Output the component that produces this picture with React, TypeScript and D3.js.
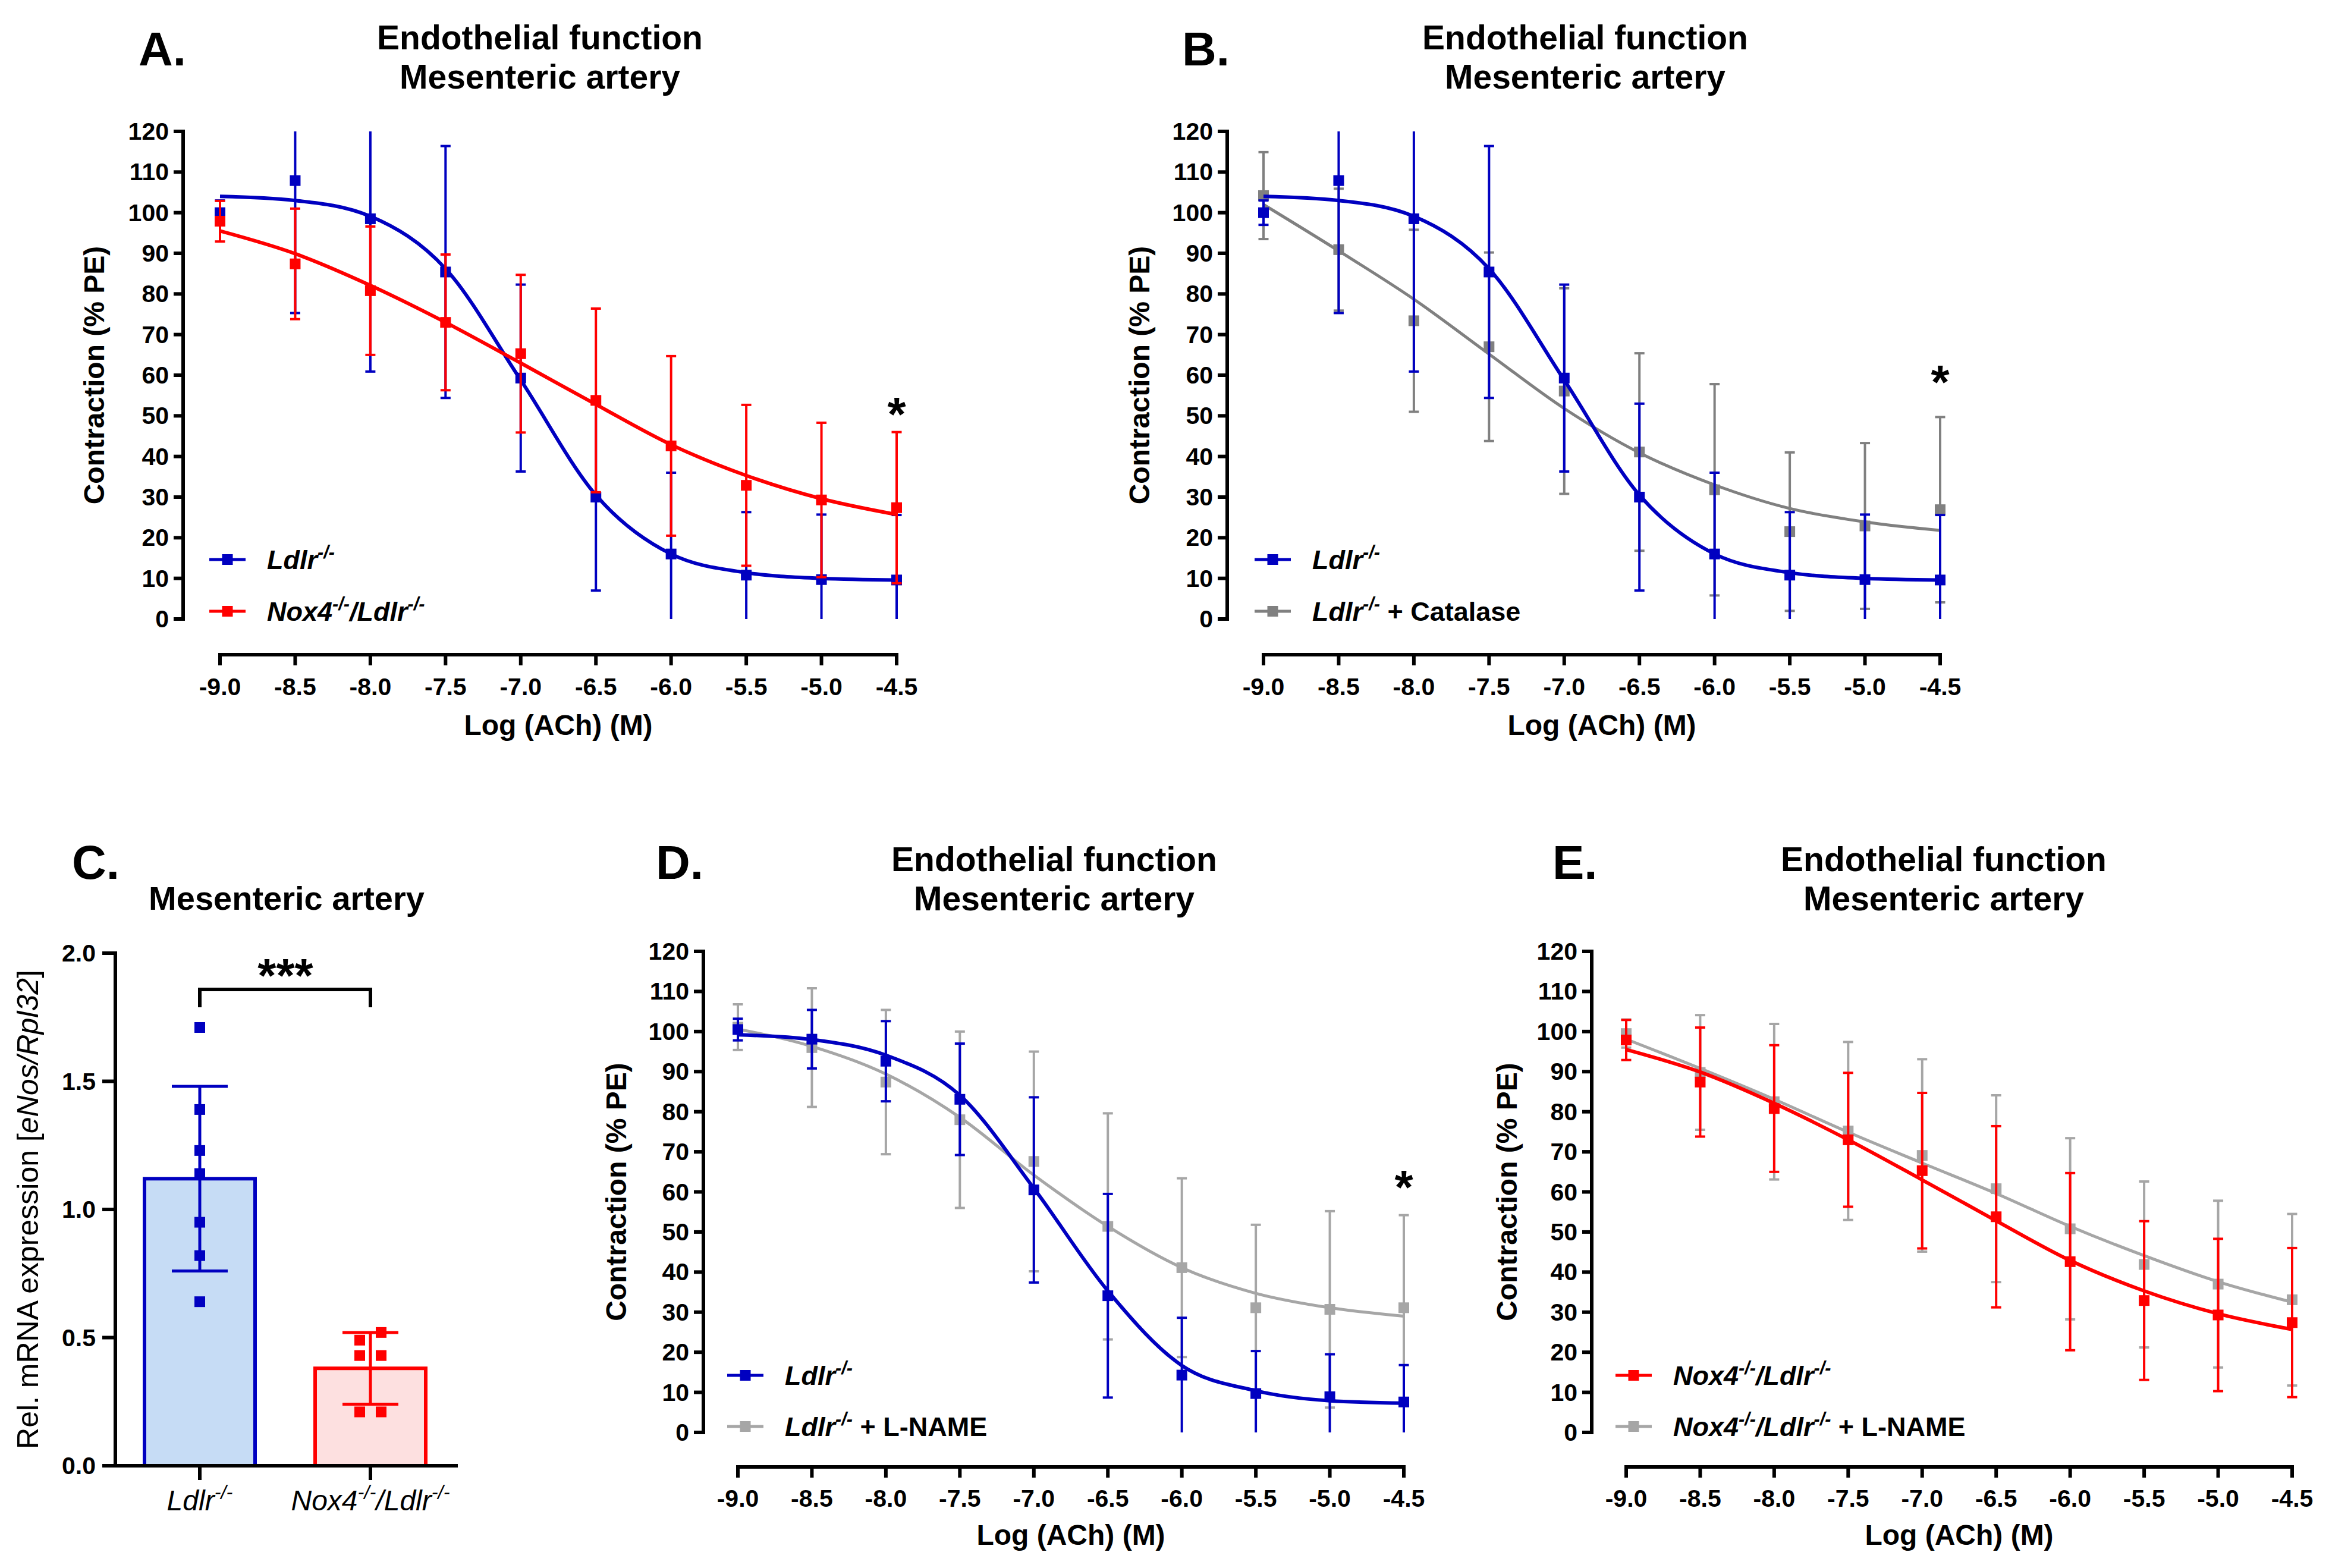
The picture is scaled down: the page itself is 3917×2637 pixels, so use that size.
import React from "react";
import * as d3 from "d3";

// ---- data ----
const LOG_ACH = [-9.0, -8.5, -8.0, -7.5, -7.0, -6.5, -6.0, -5.5, -5.0, -4.5];
const X_TICK_LABELS = ["-9.0", "-8.5", "-8.0", "-7.5", "-7.0", "-6.5", "-6.0", "-5.5", "-5.0", "-4.5"];
const Y_TICKS = [0, 10, 20, 30, 40, 50, 60, 70, 80, 90, 100, 110, 120];

// Panels A / B : Ldlr-/-
const LDLR_MEAN = [100.0, 107.9, 98.5, 85.4, 59.3, 30.0, 16.0, 10.8, 9.7, 9.6];
const LDLR_SEM = [3.0, 32.6, 37.6, 31.0, 23.0, 23.0, 20.0, 15.5, 16.0, 16.0];
const LDLR_FIT = [104.0, 103.0, 99.1, 86.2, 58.8, 30.5, 16.0, 11.4, 10.0, 9.6];

// Panels A / E : Nox4-/-/Ldlr-/-
const NOX4_MEAN = [97.9, 87.4, 80.8, 73.0, 65.3, 53.8, 42.6, 32.9, 29.3, 27.4];
const NOX4_SEM = [5.0, 13.6, 15.8, 16.7, 19.4, 22.6, 22.1, 19.8, 19.0, 18.6];
const NOX4_FIT = [95.5, 89.9, 82.1, 73.0, 63.0, 52.8, 42.9, 35.3, 29.6, 25.7];

// Panel B : Ldlr-/- + Catalase
const CAT_MEAN = [104.2, 90.9, 73.4, 67.0, 56.1, 41.1, 31.8, 21.5, 22.9, 26.9];
const CAT_SEM = [10.7, 15.0, 22.4, 23.2, 25.3, 24.3, 26.0, 19.5, 20.4, 22.8];
const CAT_FIT = [102.0, 90.6, 78.7, 65.2, 51.8, 40.9, 33.0, 27.2, 23.9, 21.8];

// Panel D : Ldlr-/- and Ldlr-/- + L-NAME
const LDLR_D_MEAN = [100.5, 98.1, 92.6, 83.1, 60.5, 34.1, 14.3, 9.7, 8.9, 7.6];
const LDLR_D_SEM = [2.7, 7.3, 10.0, 13.9, 23.1, 25.4, 14.3, 10.6, 10.6, 9.2];
const LDLR_D_FIT = [99.2, 98.0, 94.1, 84.1, 60.9, 35.3, 16.7, 10.4, 7.9, 7.3];
const LNAME_D_MEAN = [101.1, 96.0, 87.4, 78.0, 67.6, 51.4, 41.1, 31.1, 30.7, 31.1];
const LNAME_D_SEM = [5.7, 14.8, 18.0, 22.0, 27.4, 28.2, 22.3, 20.7, 24.5, 23.1];
const LNAME_D_FIT = [100.6, 96.3, 89.4, 78.6, 64.2, 51.4, 41.1, 34.7, 31.1, 29.0];

// Panel E : Nox4-/-/Ldlr-/- + L-NAME
const LNAME_E_MEAN = [99.5, 89.8, 82.5, 75.2, 69.1, 60.8, 50.8, 41.9, 37.0, 33.1];
const LNAME_E_SEM = [3.5, 14.3, 19.4, 22.2, 24.0, 23.3, 22.6, 20.7, 20.8, 21.4];
const LNAME_E_FIT = [98.1, 90.8, 83.1, 74.9, 67.2, 59.6, 51.4, 44.1, 37.6, 32.5];

// Panel C : eNos mRNA
const C_GROUPS = ["Ldlr", "Nox4"];
const C_TICKS = [0, 0.5, 1.0, 1.5, 2.0];
const C_LDLR_POINTS = [1.71, 1.39, 1.23, 1.14, 0.95, 0.82, 0.64];
const C_NOX4_POINTS = [0.52, 0.49, 0.43, 0.43, 0.21, 0.21];
const C_MEANS = [1.12, 0.38];
const C_SDS = [0.36, 0.14];

// ---- styling ----
const FONT = "'Liberation Sans', Arial, Helvetica, sans-serif";
const BLUE = "#0000C0";
const RED = "#FF0000";
const GRAY_DARK = "#808080";
const GRAY_LIGHT = "#A6A6A6";

type Part = [string, "i" | "s" | "n"];

const LBL_LDLR: Part[] = [["Ldlr", "i"], ["-/-", "s"]];
const LBL_NOX4: Part[] = [["Nox4", "i"], ["-/-", "s"], ["/Ldlr", "i"], ["-/-", "s"]];
const LBL_CAT: Part[] = [["Ldlr", "i"], ["-/-", "s"], [" + Catalase", "n"]];
const LBL_LDLR_LNAME: Part[] = [["Ldlr", "i"], ["-/-", "s"], [" + L-NAME", "n"]];
const LBL_NOX4_LNAME: Part[] = [["Nox4", "i"], ["-/-", "s"], ["/Ldlr", "i"], ["-/-", "s"], [" + L-NAME", "n"]];

function Label({ parts, x, y, size, weight = "bold", anchor = "start", transform }: any) {
  let up = false;
  return (
    <text x={x} y={y} fontSize={size} fontWeight={weight} fontFamily={FONT} textAnchor={anchor} transform={transform}>
      {parts.map(([t, k]: Part, i: number) => {
        const isSup = k === "s";
        const dy = isSup ? (up ? 0 : -size * 0.4) : up ? size * 0.4 : 0;
        up = isSup;
        return (
          <tspan key={i} dy={dy} fontStyle={k === "n" ? "normal" : "italic"} fontSize={isSup ? size * 0.68 : size}>
            {t}
          </tspan>
        );
      })}
    </text>
  );
}

interface Series {
  mean: number[];
  sem: number[];
  fit: number[];
  color: string;
  width: number;
}

function DoseResponse({ L, series, legend, star }: any) {
  const x = d3.scaleLinear().domain([-9, -4.5]).range([L.x0, L.x1]);
  const y = d3.scaleLinear().domain([0, 120]).range([L.yBottom, L.yTop]);
  const line = d3
    .line<number>()
    .x((_, i) => x(LOG_ACH[i]))
    .y((d) => y(d))
    .curve(d3.curveMonotoneX);
  const cap = 8.5;
  const sq = 18;
  return (
    <g>
      <text x={L.letterX} y={L.letterY} fontSize={80} fontWeight="bold" fontFamily={FONT}>{L.letter}</text>
      <text x={L.titleX} y={L.titleY1} fontSize={57} fontWeight="bold" fontFamily={FONT} textAnchor="middle">Endothelial function</text>
      <text x={L.titleX} y={L.titleY1 + 66} fontSize={57} fontWeight="bold" fontFamily={FONT} textAnchor="middle">Mesenteric artery</text>

      {/* y axis */}
      <line x1={L.axisX} x2={L.axisX} y1={y(0) + 3} y2={y(120) - 3} stroke="#000" strokeWidth={6} />
      {Y_TICKS.map((t) => (
        <g key={t}>
          <line x1={L.axisX - 16} x2={L.axisX} y1={y(t)} y2={y(t)} stroke="#000" strokeWidth={6} />
          <text x={L.axisX - 24} y={y(t) + 14} fontSize={41} fontWeight="bold" fontFamily={FONT} textAnchor="end">{t}</text>
        </g>
      ))}
      <text
        transform={`translate(${L.yTitleX},${(y(0) + y(120)) / 2}) rotate(-90)`}
        fontSize={48} fontWeight="bold" fontFamily={FONT} textAnchor="middle"
      >Contraction (% PE)</text>

      {/* x axis */}
      <line x1={x(-9) - 3} x2={x(-4.5) + 3} y1={L.axisY} y2={L.axisY} stroke="#000" strokeWidth={6} />
      {LOG_ACH.map((v, i) => (
        <g key={v}>
          <line x1={x(v)} x2={x(v)} y1={L.axisY} y2={L.axisY + 18} stroke="#000" strokeWidth={6} />
          <text x={x(v)} y={L.xTickY} fontSize={41} fontWeight="bold" fontFamily={FONT} textAnchor="middle">{X_TICK_LABELS[i]}</text>
        </g>
      ))}
      <text x={(L.x0 + L.x1) / 2} y={L.xTitleY} fontSize={48} fontWeight="bold" fontFamily={FONT} textAnchor="middle">Log (ACh) (M)</text>

      {/* data */}
      {series.map((s: Series, si: number) => (
        <g key={si}>
          {s.mean.map((m, i) => {
            const hi = Math.min(120, m + s.sem[i]);
            const lo = Math.max(0, m - s.sem[i]);
            const cx = x(LOG_ACH[i]);
            return (
              <g key={i} stroke={s.color} strokeWidth={4}>
                <line x1={cx} x2={cx} y1={y(hi)} y2={y(lo)} />
                {hi < 120 && <line x1={cx - cap} x2={cx + cap} y1={y(hi)} y2={y(hi)} />}
                {lo > 0 && <line x1={cx - cap} x2={cx + cap} y1={y(lo)} y2={y(lo)} />}
              </g>
            );
          })}
          <path d={line(s.fit) || ""} fill="none" stroke={s.color} strokeWidth={s.width} />
          {s.mean.map((m, i) => (
            <rect key={i} x={x(LOG_ACH[i]) - sq / 2} y={y(m) - sq / 2} width={sq} height={sq} fill={s.color} />
          ))}
        </g>
      ))}

      {/* legend */}
      {legend.map((l: any, i: number) => (
        <g key={i}>
          <line x1={L.legendX} x2={L.legendX + 61} y1={L.legendY[i]} y2={L.legendY[i]} stroke={l.color} strokeWidth={5} />
          <rect x={L.legendX + 30.5 - 9} y={L.legendY[i] - 9} width={18} height={18} fill={l.color} />
          <Label parts={l.parts} x={L.legendX + 97} y={L.legendY[i] + 16} size={45} />
        </g>
      ))}

      {star && (
        <text x={x(-4.5)} y={star} fontSize={80} fontWeight="bold" fontFamily={FONT} textAnchor="middle">*</text>
      )}
    </g>
  );
}

function spread(values: number[], tol: number) {
  const order = values.map((_, i) => i).sort((a, b) => values[a] - values[b]);
  const offs = new Array(values.length).fill(0);
  let i = 0;
  while (i < order.length) {
    let j = i;
    while (j + 1 < order.length && values[order[j + 1]] - values[order[j]] < tol) j++;
    const n = j - i + 1;
    for (let k = 0; k < n; k++) offs[order[i + k]] = k - (n - 1) / 2;
    i = j + 1;
  }
  return offs;
}

function PanelC() {
  const x = d3.scalePoint<string>().domain(C_GROUPS).range([336, 623]);
  const y = d3.scaleLinear().domain([0, 2]).range([2465, 1603]);
  const strokes = [BLUE, RED];
  const fills = ["#C6DCF5", "#FDE0E0"];
  const pts = [C_LDLR_POINTS, C_NOX4_POINTS];
  const catLabels: Part[][] = [
    [["Ldlr", "i"], ["-/-", "s"]],
    [["Nox4", "i"], ["-/-", "s"], ["/Ldlr", "i"], ["-/-", "s"]],
  ];
  const barW = 186;
  const axisX = 194;
  return (
    <g>
      <text x={121} y={1478} fontSize={80} fontWeight="bold" fontFamily={FONT}>C.</text>
      <text x={482} y={1530} fontSize={56} fontWeight="bold" fontFamily={FONT} textAnchor="middle">Mesenteric artery</text>

      {C_GROUPS.map((g, gi) => {
        const cx = x(g) as number;
        return (
          <g key={g}>
            <rect x={cx - barW / 2} y={y(C_MEANS[gi])} width={barW} height={y(0) - y(C_MEANS[gi])}
              fill={fills[gi]} stroke={strokes[gi]} strokeWidth={6} />
          </g>
        );
      })}

      {/* axes */}
      <line x1={axisX} x2={axisX} y1={y(0)} y2={y(2) - 3} stroke="#000" strokeWidth={6} />
      {C_TICKS.map((t) => (
        <g key={t}>
          <line x1={axisX - 22} x2={axisX} y1={y(t)} y2={y(t)} stroke="#000" strokeWidth={6} />
          <text x={161} y={y(t) + 14} fontSize={41} fontWeight="bold" fontFamily={FONT} textAnchor="end">{t.toFixed(1)}</text>
        </g>
      ))}
      <line x1={axisX - 22} x2={770} y1={y(0)} y2={y(0)} stroke="#000" strokeWidth={6} />
      {C_GROUPS.map((g, gi) => (
        <g key={g}>
          <line x1={x(g)} x2={x(g)} y1={y(0)} y2={y(0) + 24} stroke="#000" strokeWidth={6} />
          <Label parts={catLabels[gi]} x={x(g)} y={2540} size={48} weight="normal" anchor="middle" />
        </g>
      ))}
      <Label
        parts={[["Rel. mRNA expression [", "n"], ["eNos/Rpl32", "i"], ["]", "n"]]}
        x={0} y={0} size={50} weight="normal" anchor="middle"
        transform={`translate(64,${(y(0) + y(2)) / 2}) rotate(-90)`}
      />

      {/* error bars and points */}
      {C_GROUPS.map((g, gi) => {
        const cx = x(g) as number;
        const m = C_MEANS[gi];
        const sd = C_SDS[gi];
        const offs = spread(pts[gi], 0.05);
        return (
          <g key={g}>
            <g stroke={strokes[gi]} strokeWidth={5}>
              <line x1={cx} x2={cx} y1={y(m - sd)} y2={y(m + sd)} />
              <line x1={cx - 47} x2={cx + 47} y1={y(m + sd)} y2={y(m + sd)} />
              <line x1={cx - 47} x2={cx + 47} y1={y(m - sd)} y2={y(m - sd)} />
            </g>
            {pts[gi].map((v, i) => (
              <rect key={i} x={cx + offs[i] * 36 - 9} y={y(v) - 9} width={18} height={18} fill={strokes[gi]} />
            ))}
          </g>
        );
      })}

      {/* significance */}
      <path d={`M${x("Ldlr")},1694 V1664 H${x("Nox4")} V1694`} fill="none" stroke="#000" strokeWidth={6} />
      <text x={480} y={1668} fontSize={80} fontWeight="bold" fontFamily={FONT} textAnchor="middle">***</text>
    </g>
  );
}

const LAYOUT_A = {
  letter: "A.", letterX: 233, letterY: 110, titleX: 908, titleY1: 83,
  x0: 370, x1: 1508, yTop: 221, yBottom: 1041, axisX: 308, axisY: 1101,
  yTitleX: 175, xTickY: 1169, xTitleY: 1236, legendX: 352, legendY: [941, 1028],
};
const LAYOUT_B = { ...LAYOUT_A, letter: "B.", letterX: 1988, titleX: 2666, x0: 2125, x1: 3263, axisX: 2064, yTitleX: 1933, legendX: 2110 };
const LAYOUT_D = {
  letter: "D.", letterX: 1103, letterY: 1478, titleX: 1773, titleY1: 1465,
  x0: 1241, x1: 2361, yTop: 1600, yBottom: 2409, axisX: 1183, axisY: 2467,
  yTitleX: 1053, xTickY: 2534, xTitleY: 2598, legendX: 1223, legendY: [2313, 2399],
};
const LAYOUT_E = { ...LAYOUT_D, letter: "E.", letterX: 2611, titleX: 3269, x0: 2735, x1: 3855, axisX: 2677, yTitleX: 2551, legendX: 2717 };

export default function App() {
  const ldlr = { mean: LDLR_MEAN, sem: LDLR_SEM, fit: LDLR_FIT, color: BLUE, width: 6 };
  const nox4 = { mean: NOX4_MEAN, sem: NOX4_SEM, fit: NOX4_FIT, color: RED, width: 6 };
  const cat = { mean: CAT_MEAN, sem: CAT_SEM, fit: CAT_FIT, color: GRAY_DARK, width: 5 };
  const ldlrD = { mean: LDLR_D_MEAN, sem: LDLR_D_SEM, fit: LDLR_D_FIT, color: BLUE, width: 6 };
  const lnameD = { mean: LNAME_D_MEAN, sem: LNAME_D_SEM, fit: LNAME_D_FIT, color: GRAY_LIGHT, width: 5 };
  const lnameE = { mean: LNAME_E_MEAN, sem: LNAME_E_SEM, fit: LNAME_E_FIT, color: GRAY_LIGHT, width: 5 };
  return (
    <svg
      width={3917}
      height={2637}
      viewBox="0 0 3917 2637"
      style={{ position: "absolute", left: 0, top: 0, background: "#fff", display: "block" }}
    >
      <rect width={3917} height={2637} fill="#fff" />
      <DoseResponse
        L={LAYOUT_A}
        series={[ldlr, nox4]}
        legend={[{ color: BLUE, parts: LBL_LDLR }, { color: RED, parts: LBL_NOX4 }]}
        star={724}
      />
      <DoseResponse
        L={LAYOUT_B}
        series={[cat, ldlr]}
        legend={[{ color: BLUE, parts: LBL_LDLR }, { color: GRAY_DARK, parts: LBL_CAT }]}
        star={670}
      />
      <PanelC />
      <DoseResponse
        L={LAYOUT_D}
        series={[lnameD, ldlrD]}
        legend={[{ color: BLUE, parts: LBL_LDLR }, { color: GRAY_LIGHT, parts: LBL_LDLR_LNAME }]}
        star={2024}
      />
      <DoseResponse
        L={LAYOUT_E}
        series={[lnameE, nox4]}
        legend={[{ color: RED, parts: LBL_NOX4 }, { color: GRAY_LIGHT, parts: LBL_NOX4_LNAME }]}
        star={null}
      />
    </svg>
  );
}
